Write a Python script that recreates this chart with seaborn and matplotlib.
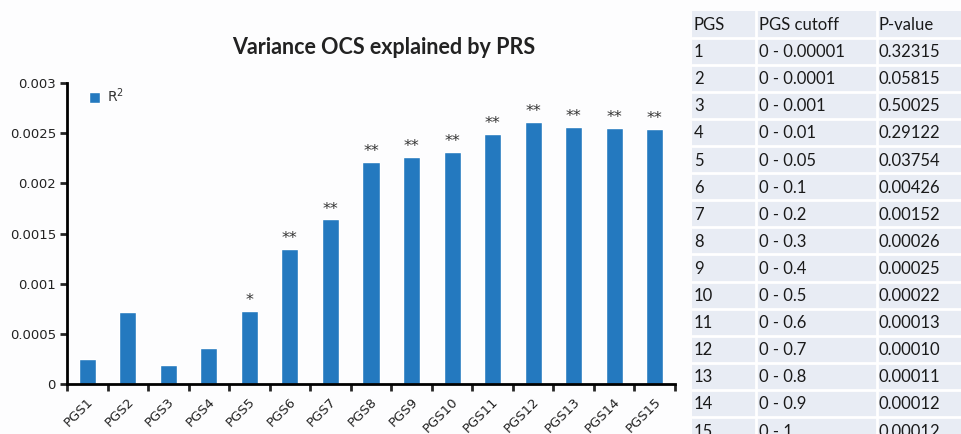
import matplotlib
matplotlib.use("Agg")
import matplotlib.pyplot as plt
import matplotlib.transforms as mtransforms
import pandas as pd
import seaborn as sns

# data
pgs = [f"PGS{i}" for i in range(1, 16)]
r2 = [0.00025, 0.00072, 0.00019, 0.00036, 0.00073, 0.00135, 0.00164, 0.00221,
      0.00226, 0.00231, 0.00249, 0.00261, 0.00256, 0.00255, 0.00254]
cutoffs = ["0 - 0.00001", "0 - 0.0001", "0 - 0.001", "0 - 0.01", "0 - 0.05",
           "0 - 0.1", "0 - 0.2", "0 - 0.3", "0 - 0.4", "0 - 0.5", "0 - 0.6",
           "0 - 0.7", "0 - 0.8", "0 - 0.9", "0 - 1"]
pvals = ["0.32315", "0.05815", "0.50025", "0.29122", "0.03754", "0.00426",
         "0.00152", "0.00026", "0.00025", "0.00022", "0.00013", "0.00010",
         "0.00011", "0.00012", "0.00012"]

df = pd.DataFrame({"PGS": pgs, "R2": r2})

sns.set_style("white")
plt.rcParams["font.family"] = ["DejaVu Sans"]

W, H = 962, 434
fig = plt.figure(figsize=(W / 100, H / 100), dpi=100, facecolor="#fdfdfe")

# bar chart
ax = fig.add_axes([67 / W, 1 - 384 / H, 608 / W, 301 / H])
ax.set_facecolor("#fdfdfe")
sns.barplot(data=df, x="PGS", y="R2", color="#2479bf", saturation=1,
            width=0.42, ax=ax)
ax.set_xlim(-0.5, 14.5)
ax.set_ylim(0, 0.003)
ax.set_yticks([0, 0.0005, 0.001, 0.0015, 0.002, 0.0025, 0.003])
ax.set_yticklabels(["0", "0.0005", "0.001", "0.0015", "0.002", "0.0025", "0.003"],
                   fontsize=9.5, color="#222222")
ax.set_xlabel("")
ax.set_ylabel("")
for s in ["top", "right"]:
    ax.spines[s].set_visible(False)
for s in ["left", "bottom"]:
    ax.spines[s].set_linewidth(2)
    ax.spines[s].set_color("black")
ax.tick_params(axis="y", length=5, width=2, direction="out", pad=3, left=True)

# ticks at category boundaries, labels at centres
ax.set_xticks([i - 0.5 for i in range(16)])
ax.set_xticklabels([])
ax.tick_params(axis="x", which="major", length=5, width=2, direction="out", bottom=True)
ax.set_xticks(range(15), minor=True)
ax.set_xticklabels(pgs, minor=True, rotation=45, ha="right", va="center",
                   rotation_mode="anchor", fontsize=9.5, color="#222222")
ax.tick_params(axis="x", which="minor", length=0, pad=11)
shift = mtransforms.ScaledTranslation(4 / 100, 0, fig.dpi_scale_trans)
for lab in ax.get_xticklabels(minor=True):
    lab.set_transform(lab.get_transform() + shift)

# significance stars from p-values
for i, (v, p) in enumerate(zip(r2, pvals)):
    p = float(p)
    star = "**" if p < 0.01 else ("*" if p < 0.05 else "")
    if star:
        ax.annotate(star, (i, v), xytext=(0, 2), textcoords="offset points",
                    ha="center", va="bottom", fontsize=11.5, color="#333333")

leg = ax.legend([ax.patches[0]], ["R$^2$"], loc="upper left",
                bbox_to_anchor=(0.015, 1.03), frameon=False, fontsize=10,
                handlelength=0.8, handleheight=0.8, handletextpad=0.5)
for t in leg.get_texts():
    t.set_color("#333333")

fig.text(384 / W, 1 - 47 / H, "Variance OCS explained by PRS", ha="center",
         va="center", fontsize=15.5, fontweight="bold", family="Lato",
         color="#222222")

# table
tx = fig.add_axes([0, 0, 1, 1])
tx.set_xlim(0, W)
tx.set_ylim(H, 0)
tx.axis("off")
top = 10.5
rh = 27.1
tx.add_patch(plt.Rectangle((692, top), W - 692, H - top, color="#e8ecf4", lw=0))
for k in range(1, 17):
    tx.plot([692, W], [top + k * rh] * 2, color="white", lw=2)
for xv in [756, 877]:
    tx.plot([xv, xv], [top, H], color="white", lw=2)
rows = [("PGS", "PGS cutoff", "P-value")] + [
    (str(i + 1), cutoffs[i], pvals[i]) for i in range(15)]
for k, row in enumerate(rows):
    yc = top + rh * (k + 0.5) + 1
    for xv, txt in zip([694, 759, 879], row):
        tx.text(xv, yc, txt, ha="left", va="center", fontsize=12,
                family="Lato", color="#1a1a1a")

fig.savefig("out.png", dpi=100, facecolor=fig.get_facecolor())
